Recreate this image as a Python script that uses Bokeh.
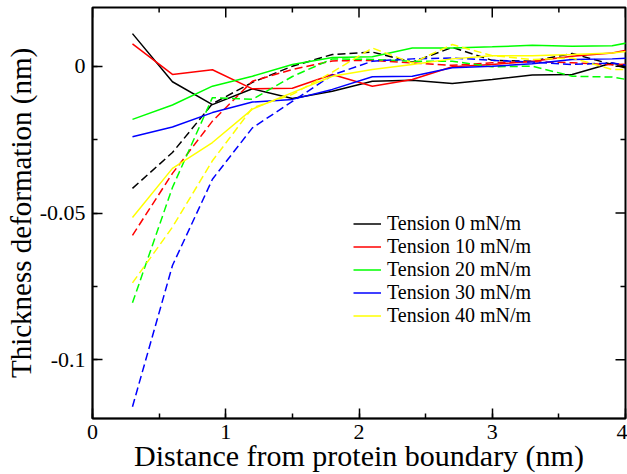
import math
from bokeh.plotting import figure
from bokeh.models import FixedTicker, Legend, LegendItem
from bokeh.embed import file_html
from bokeh.resources import INLINE

# ---- data ----
distance = [0.3, 0.6, 0.9, 1.2, 1.5, 1.8, 2.1, 2.4, 2.7, 3.0, 3.3, 3.6, 3.9, 4.2]

tension_labels = ["Tension 0 mN/m", "Tension 10 mN/m", "Tension 20 mN/m",
                  "Tension 30 mN/m", "Tension 40 mN/m"]

t0_solid = [0.0111, -0.0053, -0.0131, -0.0077, -0.0110, -0.0085, -0.0051, -0.0048, -0.0059, -0.0045, -0.0030, -0.0028, 0.0011, -0.0020]
t0_dash = [-0.0416, -0.0294, -0.0128, -0.0055, 0.0000, 0.0040, 0.0048, 0.0014, 0.0064, 0.0020, 0.0017, 0.0043, 0.0006, -0.0030]

t10_solid = [0.0076, -0.0028, -0.0012, -0.0077, -0.0075, -0.0028, -0.0068, -0.0045, -0.0002, 0.0006, 0.0017, 0.0034, 0.0045, 0.0072]
t10_dash = [-0.0576, -0.0365, -0.0187, -0.0051, -0.0011, 0.0018, 0.0020, 0.0011, 0.0003, 0.0012, 0.0015, 0.0012, 0.0005, 0.0010]

t20_solid = [-0.0181, -0.0132, -0.0068, -0.0034, 0.0006, 0.0030, 0.0032, 0.0062, 0.0062, 0.0066, 0.0071, 0.0068, 0.0070, 0.0095]
t20_dash = [-0.0806, -0.0413, -0.0107, -0.0113, -0.0035, 0.0025, 0.0023, 0.0017, 0.0017, -0.0002, 0.0000, -0.0034, -0.0037, -0.0060]

t30_solid = [-0.0240, -0.0207, -0.0158, -0.0122, -0.0113, -0.0079, -0.0036, -0.0034, -0.0005, 0.0000, 0.0008, 0.0023, 0.0025, 0.0032]
t30_dash = [-0.1160, -0.0679, -0.0385, -0.0210, -0.0120, -0.0030, 0.0017, 0.0025, 0.0028, 0.0020, 0.0014, 0.0006, 0.0011, -0.0010]

t40_solid = [-0.0515, -0.0348, -0.0260, -0.0146, -0.0090, -0.0034, -0.0011, 0.0006, 0.0025, 0.0036, 0.0036, 0.0040, 0.0045, 0.0060]
t40_dash = [-0.0738, -0.0548, -0.0322, -0.0142, -0.0096, -0.0020, 0.0062, 0.0011, 0.0074, 0.0036, 0.0023, 0.0028, -0.0011, -0.0011]

X_MIN, X_MAX = 0, 4
Y_MIN, Y_MAX = -0.12, 0.02
x_ticks = [0, 1, 2, 3, 4]
x_minor = [0.5, 1.5, 2.5, 3.5]
y_ticks = [-0.1, -0.05, 0]
y_tick_labels = ["-0.1", "-0.05", "0"]
y_minor = [-0.075, -0.025]

x_title = "Distance from protein boundary (nm)"
y_title = "Thickness deformation (nm)"

solids = [t0_solid, t10_solid, t20_solid, t30_solid, t40_solid]
dashes = [t0_dash, t10_dash, t20_dash, t30_dash, t40_dash]
colors = ["#000000", "#ff0000", "#00ff00", "#0000ff", "#ffff00"]

FONT = "Liberation Serif"

p = figure(width=627, height=474, x_range=(X_MIN, X_MAX), y_range=(Y_MIN, Y_MAX),
           output_backend="svg", toolbar_location=None,
           min_border_left=92, min_border_right=2, min_border_top=7, min_border_bottom=54,
           x_axis_label=x_title, y_axis_label=y_title)
p.grid.visible = False
p.outline_line_color = "black"
p.outline_line_width = 2
p.background_fill_color = "white"
p.border_fill_color = "white"

def style_axis(ax, ticker):
    ax.ticker = ticker
    ax.major_tick_in = 10
    ax.major_tick_out = 0
    ax.minor_tick_in = 5
    ax.minor_tick_out = 0
    ax.axis_line_color = "black"
    ax.axis_line_width = 1.5
    ax.major_tick_line_color = "black"
    ax.major_tick_line_width = 1.5
    ax.minor_tick_line_color = "black"
    ax.minor_tick_line_width = 1.5
    ax.major_label_text_font = FONT
    ax.major_label_text_font_size = "22px"
    ax.major_label_text_color = "black"
    ax.major_label_text_line_height = 1.0
    ax.axis_label_text_font = FONT
    ax.axis_label_text_font_style = "normal"
    ax.axis_label_text_color = "black"
    ax.axis_label_text_line_height = 1.0

style_axis(p.xaxis[0], FixedTicker(ticks=x_ticks, minor_ticks=x_ticks + x_minor))
style_axis(p.yaxis[0], FixedTicker(ticks=y_ticks, minor_ticks=y_ticks + y_minor))
p.yaxis[0].major_label_overrides = {t: l for t, l in zip(y_ticks, y_tick_labels)}
p.xaxis[0].axis_label_text_font_size = "30px"
p.xaxis[0].major_label_standoff = 6
p.xaxis[0].axis_label_standoff = -3
p.xaxis[0].major_label_text_line_height = 0.8
p.xaxis[0].axis_label_text_line_height = 0.8
p.yaxis[0].axis_label_text_font_size = "29px"
p.yaxis[0].major_label_standoff = 7
p.yaxis[0].axis_label_standoff = 0

# ticks on the top and right edges of the frame (clipped half-markers)
p.scatter(x_ticks, [Y_MAX] * len(x_ticks), marker="dash", size=20, angle=math.pi / 2,
          line_color="black", line_width=1.5)
p.scatter(x_minor, [Y_MAX] * len(x_minor), marker="dash", size=10, angle=math.pi / 2,
          line_color="black", line_width=1.5)
p.scatter([X_MAX] * len(y_ticks), y_ticks, marker="dash", size=20,
          line_color="black", line_width=1.5)
p.scatter([X_MAX] * len(y_minor), y_minor, marker="dash", size=10,
          line_color="black", line_width=1.5)

items = []
for lab, ys, yd, c in zip(tension_labels, solids, dashes, colors):
    r = p.line(distance, ys, line_color=c, line_width=1.5)
    p.line(distance, yd, line_color=c, line_width=1.5, line_dash="8 4")
    items.append(LegendItem(label=lab, renderers=[r]))

legend = Legend(items=items, location=(261, 91))
legend.background_fill_alpha = 0
legend.border_line_alpha = 0
legend.padding = 0
legend.margin = 0
legend.spacing = 0
legend.glyph_width = 28
legend.glyph_height = 21
legend.label_height = 21
legend.label_standoff = 6
legend.label_text_font = FONT
legend.label_text_font_size = "20px"
legend.label_text_line_height = 0.9
legend.label_text_color = "black"
p.add_layout(legend)

open("out.html", "w").write(file_html(p, INLINE))
